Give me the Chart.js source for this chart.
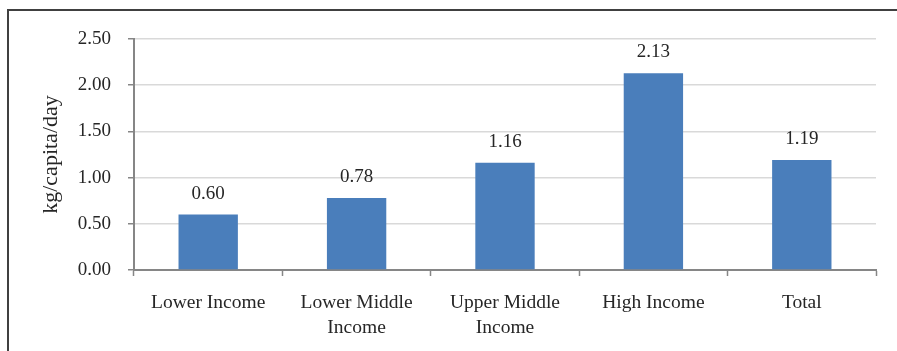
<!DOCTYPE html>
<html>
<head>
<meta charset="utf-8">
<script src="https://cdn.jsdelivr.net/npm/chart.js@4"></script>
<style>
  html, body { margin: 0; padding: 0; background: #fff; overflow: hidden; }
  body { width: 897px; height: 351px; position: relative; }
  #chart { position: absolute; left: 0; top: 0; }
</style>
</head>
<body>
<canvas id="chart" width="897" height="351"></canvas>
<script>
// values
const categories = [['Lower Income'], ['Lower Middle', 'Income'], ['Upper Middle', 'Income'], ['High Income'], ['Total']];
const wastePerCapita = [0.60, 0.78, 1.16, 2.13, 1.19];
const yTicks = [0, 0.5, 1, 1.5, 2, 2.5];

const FONT = '"Liberation Serif", "Times New Roman", serif';
const TEXT = '#262626';
const AXIS = '#868686';

// outer frame (top + left edge of the figure box)
const frame = {
  id: 'frame',
  beforeDraw(chart) {
    const ctx = chart.ctx;
    ctx.save();
    ctx.strokeStyle = '#404040';
    ctx.lineWidth = 2;
    ctx.beginPath();
    ctx.moveTo(8, chart.height);
    ctx.lineTo(8, 10);
    ctx.lineTo(chart.width, 10);
    ctx.stroke();
    ctx.restore();
  }
};

// value labels above each bar
const barLabels = {
  id: 'barLabels',
  afterDatasetsDraw(chart) {
    const ctx = chart.ctx;
    const meta = chart.getDatasetMeta(0);
    ctx.save();
    ctx.font = '19px ' + FONT;
    ctx.fillStyle = TEXT;
    ctx.textAlign = 'center';
    ctx.textBaseline = 'middle';
    meta.data.forEach((bar, i) => {
      ctx.fillText(wastePerCapita[i].toFixed(2), bar.x, bar.y - 21);
    });
    ctx.restore();
  }
};

new Chart(document.getElementById('chart'), {
  type: 'bar',
  data: {
    labels: categories,
    datasets: [{
      data: wastePerCapita,
      backgroundColor: '#4a7ebb',
      borderWidth: 0,
      barPercentage: 0.4,
      categoryPercentage: 1,
    }],
  },
  options: {
    responsive: false,
    animation: false,
    layout: { padding: { top: 39, right: 21, left: 0, bottom: 0 } },
    plugins: { legend: { display: false }, tooltip: { enabled: false } },
    scales: {
      x: {
        grid: { drawOnChartArea: false, drawTicks: true, tickLength: 6, tickColor: AXIS, tickWidth: 1.5 },
        border: { color: AXIS, width: 2 },
        ticks: { font: { family: FONT, size: 19.5, lineHeight: 1.25 }, color: TEXT, padding: 15, maxRotation: 0, autoSkip: false },
        afterFit(scale) { scale.height = 81; },
      },
      y: {
        min: 0,
        max: 2.5,
        afterBuildTicks(scale) { scale.ticks = yTicks.map(v => ({ value: v })); },
        grid: { color: '#d9d9d9', lineWidth: 1.5, tickLength: 6, tickColor: AXIS },
        border: { color: AXIS, width: 2 },
        ticks: { font: { family: FONT, size: 19 }, color: TEXT, padding: 17, callback: v => Number(v).toFixed(2) },
        title: { display: true, text: 'kg/capita/day', font: { family: FONT, size: 22 }, color: TEXT, padding: { top: 38, bottom: 0 } },
        afterFit(scale) { scale.width = 134; },
      },
    },
  },
  plugins: [frame, barLabels],
});
</script>
</body>
</html>
